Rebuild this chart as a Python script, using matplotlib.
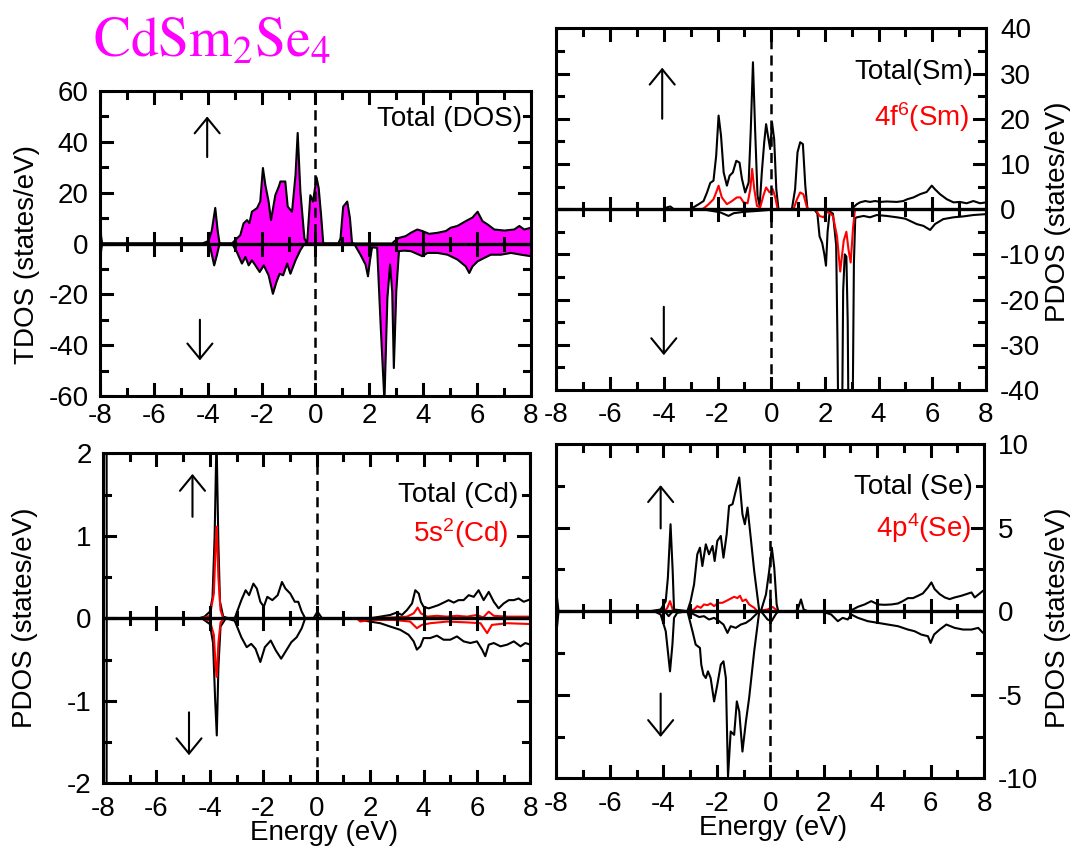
import numpy as np
import matplotlib.pyplot as plt
from matplotlib.ticker import MultipleLocator

plt.rcParams['font.family'] = ['Liberation Sans', 'DejaVu Sans']
plt.rcParams['axes.unicode_minus'] = False
plt.rcParams['mathtext.fontset'] = 'custom'
plt.rcParams['mathtext.rm'] = 'Liberation Sans'
plt.rcParams['mathtext.it'] = 'Liberation Sans:italic'
plt.rcParams['mathtext.bf'] = 'Liberation Sans:bold'

# ---- total DOS (spin up / spin down) ----
e_tdos_up = [-8.0, -7.96, -7.92, -4.2, -3.97, -3.85, -3.72, -3.63, -3.56, -3.1, -2.98, -2.79,
             -2.67, -2.54, -2.45, -2.36, -2.17, -2.05, -1.95, -1.86, -1.74, -1.65, -1.49, -1.36,
             -1.30, -1.12, -1.03, -0.87, -0.74, -0.66, -0.56, -0.41, -0.31, -0.19, -0.09, 0.04,
             0.12, 0.21, 0.29, 0.85, 0.93, 1.03, 1.18, 1.28, 1.36, 2.85, 2.91, 3.1, 3.35, 3.54,
             3.78, 3.97, 4.22, 4.53, 4.84, 5.02, 5.27, 5.58, 5.83, 6.02, 6.2, 6.39, 6.64, 7.01,
             7.38, 7.57, 7.75, 8.0]
tdos_up = [15, 3, 0, 0, 1, 5, 14, 5, 0, 0, 1.3, 3.3,
           7.9, 9.2, 8.0, 12.5, 13.9, 16.5, 29.7, 23, 16.5, 9.2, 19, 22.4,
           24.4, 24.4, 14.5, 12.5, 27, 43.5, 20.5, 2, 0, 19, 16.5, 26,
           21.8, 11, 0, 0, 2, 14.5, 16.5, 10, 0, 0, 0.7, 2.2, 2.9, 4.2,
           5.5, 4.9, 3.8, 4.2, 4.9, 6.2, 6.9, 8.8, 10.2, 12.5, 8.8, 7.5, 5.5, 5.1,
           5.5, 6.9, 5.5, 6.2]
e_tdos_dn = [-8.0, -7.96, -7.92, -4.03, -3.91, -3.76, -3.66, -3.56, -3.10, -2.92, -2.73, -2.6,
             -2.48, -2.36, -2.23, -2.07, -1.92, -1.74, -1.58, -1.45, -1.33, -1.2, -1.05, -0.93,
             -0.74, -0.56, -0.43, -0.37, 1.43, 1.67, 1.86, 1.95, 2.02, 2.1, 2.29, 2.42, 2.56,
             2.67, 2.77, 2.85, 2.91, 3.0, 3.1, 3.29, 3.54, 3.78, 3.97, 4.16, 4.53, 4.9, 5.27,
             5.58, 5.71, 5.83, 6.02, 6.26, 6.51, 6.88, 7.26, 7.63, 8.0]
tdos_dn = [-15, -3, 0, 0, -1.3, -8.6, -4.6, 0, 0, -3.3, -7.9, -5.3,
           -8.6, -6.6, -8.6, -11.2, -8.6, -12.5, -19.8, -15.2, -11.9, -12.5, -7.9, -11.9,
           -6.6, -2.6, -0.4, 0, 0, -4.4, -8.3, -12.9, -7, -1.5, -1.7, -32, -62,
           -21.5, -8.3, -18.9, -49, -18.9, -3, -2.8, -3, -4.1, -5, -3.7, -3.7, -4.4, -6.3,
           -9, -11.6, -9, -7, -5.7, -4.4, -4.4, -3.7, -4.4, -5]

# ---- Sm ----
e_sm_up = [-8, -3.95, -3.88, -3.76, -3.63, -3.01, -2.7, -2.52, -2.39, -2.27, -2.15, -2.05, -1.96,
           -1.87, -1.77, -1.65, -1.55, -1.43, -1.30, -1.18, -1.09, -0.97, -0.84, -0.76, -0.68,
           -0.60, -0.51, -0.43, -0.35, -0.26, -0.19, -0.10, -0.04, 0.03, 0.11, 0.19, 0.27, 0.77,
           0.89, 0.98, 1.08, 1.18, 1.27, 1.35, 3.0, 3.06, 3.19, 3.31, 3.50, 3.68, 3.87, 4.06,
           4.30, 4.68, 4.92, 5.07, 5.30, 5.54, 5.79, 5.98, 6.10, 6.29, 6.54, 6.79, 7.03, 7.28,
           7.53, 7.78, 8.0]
sm_up = [0, 0, 0.4, 0.6, 0, 0, 1.1, 1.8, 3.7, 5.8, 6.3, 11.8, 20.7,
         16.3, 8.1, 5.2, 7.4, 8.1, 10.7, 10.3, 6.7, 3.7, 5.9, 17.7, 32.5,
         17.7, 3, 0.7, 8.1, 14.8, 18.8, 15.5, 13.3, 19.2, 15.5, 4.4, 0, 0,
         4.4, 12.6, 14.8, 14.4, 5.2, 0, 0, 0.4, 1.1, 1.5, 1.8, 1.6, 1.8, 1.6,
         1.7, 1.6, 1.8, 2.2, 2.6, 3.3, 3.8, 5.2, 4.4, 3.3, 2.2, 1.5, 1.6, 1.3,
         1.8, 1.3, 1.5]
e_sm_dn = [-8, -2.5, -2.39, -1.90, -1.59, -1.40, -1.03, -0.53, -0.04, 0.34, 1.6, 1.72, 1.80,
           1.90, 1.98, 2.04, 2.10, 2.18, 2.30, 2.42, 2.47, 2.50, 2.64, 2.68, 2.74, 2.80, 2.85,
           2.88, 3.03, 3.08, 3.13, 3.19, 3.44, 3.68, 3.93, 4.30, 4.68, 4.99, 5.17, 5.42, 5.67,
           5.92, 6.10, 6.41, 6.79, 7.16, 7.53, 8.0]
sm_dn = [0, 0, -0.2, -0.7, -1.5, -0.9, -0.6, -0.4, -0.15, 0, 0, -1, -6,
         -7.5, -10, -12.5, -5, -0.5, -1, -8, -30, -48, -48, -18, -10, -10.5, -25,
         -48, -48, -12, -2, -1.8, -1.5, -1.8, -1.3, -1.5, -1.8, -2.1, -2.6, -3.3, -3.7,
         -4.6, -3.3, -2.2, -1.8, -1.6, -1.3, -1.1]
e_sm4f_up = [-8, -2.6, -2.52, -2.33, -2.15, -2.05, -1.96, -1.84, -1.65, -1.46, -1.28, -1.15,
             -1.03, -0.88, -0.78, -0.71, -0.63, -0.53, -0.41, -0.29, -0.19, -0.06, 0.06, 0.15,
             0.24, 0.83, 0.96, 1.08, 1.20, 1.33, 1.39, 8]
sm4f_up = [0, 0, 0.15, 1.1, 2.2, 3.7, 5.2, 2.6, 1.1, 1.8, 2.6, 2.6,
           1.5, 1.3, 4.4, 8.9, 4.4, 0.7, 0.4, 3, 4.8, 3.7, 4.4, 2.6,
           0, 0, 2.2, 3.7, 3.3, 0.4, 0, 0]
e_sm4f_dn = [-8, 1.65, 1.8, 1.95, 2.1, 2.3, 2.45, 2.57, 2.7, 2.8, 2.88, 2.96, 3.05, 3.12, 8]
sm4f_dn = [0, 0, -1.5, -1.8, -0.5, -1.5, -6, -13.8, -7, -5, -9, -11.8, -4, 0, 0]

# ---- Cd ----
e_cd_up = [-8, -7.87, -7.86, -4.4, -4.2, -4.0, -3.9, -3.82, -3.75, -3.68, -3.62, -3.5, -3.3,
           -3.07, -2.82, -2.66, -2.53, -2.37, -2.24, -2.11, -1.98, -1.85, -1.66, -1.46, -1.30,
           -1.17, -0.99, -0.82, -0.69, -0.56, -0.43, -0.12, 0.03, 0.2, 0.3, 2.0, 2.38, 2.75,
           3.0, 3.19, 3.38, 3.57, 3.69, 3.82, 3.90, 4.0, 4.19, 4.38, 4.56, 4.75, 4.94, 5.13,
           5.31, 5.50, 5.69, 5.88, 6.06, 6.25, 6.44, 6.63, 6.81, 7.0, 7.19, 7.38, 7.56, 7.75, 8.0]
cd_up = [5, 5, 0, 0, 0.02, 0.08, 0.25, 1.0, 2.2, 0.9, 0.2, 0.02, 0,
         0, 0.22, 0.34, 0.28, 0.42, 0.36, 0.2, 0.14, 0.26, 0.22, 0.28, 0.44,
         0.36, 0.3, 0.2, 0.2, 0.08, 0, 0, 0.08, 0, 0, 0, 0.02, 0.04,
         0.07, 0.04, 0.1, 0.18, 0.34, 0.3, 0.2, 0.14, 0.12, 0.14, 0.16, 0.19, 0.22, 0.19,
         0.22, 0.22, 0.28, 0.26, 0.34, 0.22, 0.32, 0.2, 0.12, 0.18, 0.22, 0.22, 0.24, 0.2, 0.23]
e_cd_dn = [-8, -7.87, -7.86, -4.3, -4.0, -3.88, -3.8, -3.74, -3.68, -3.6, -3.4, -3.07, -2.82,
           -2.62, -2.45, -2.29, -2.11, -1.94, -1.72, -1.53, -1.33, -1.14, -0.95, -0.75, -0.56,
           -0.43, 1.5, 1.63, 2.0, 2.38, 2.75, 3.13, 3.44, 3.63, 3.75, 3.88, 4.0, 4.25, 4.5,
           4.75, 5.0, 5.25, 5.5, 5.75, 6.0, 6.19, 6.31, 6.44, 6.63, 6.88, 7.13, 7.38, 7.63,
           7.81, 8.0]
cd_dn = [-5, -5, 0, 0, -0.07, -0.3, -1.0, -1.42, -0.6, -0.1, 0, -0.03, -0.23,
         -0.35, -0.31, -0.37, -0.53, -0.35, -0.27, -0.39, -0.49, -0.39, -0.29, -0.23, -0.12,
         0, 0, -0.02, -0.04, -0.06, -0.1, -0.14, -0.2, -0.28, -0.38, -0.34, -0.24, -0.24, -0.21,
         -0.26, -0.26, -0.22, -0.28, -0.3, -0.28, -0.38, -0.46, -0.32, -0.3, -0.34, -0.32, -0.28, -0.34,
         -0.3, -0.32]
e_cd5s_up = [-8, -4.3, -4.0, -3.85, -3.78, -3.74, -3.68, -3.6, -3.5, 2.0, 2.88, 3.38, 3.63, 3.78,
             3.9, 4.13, 4.5, 4.88, 5.25, 5.63, 6.0, 6.23, 6.44, 6.63, 7.13, 7.63, 8.0]
cd5s_up = [0, 0, 0.03, 0.3, 0.9, 1.11, 0.5, 0.1, 0, 0, 0.01, 0.02, 0.06, 0.13,
           0.06, 0.02, 0.03, 0.02, 0.03, 0.02, 0.04, 0.01, 0.08, 0.03, 0.02, 0.02, 0.02]
e_cd5s_dn = [-8, -4.3, -4.0, -3.85, -3.78, -3.74, -3.68, -3.6, -3.45, 1.5, 1.63, 2.0, 2.88, 3.5,
             3.75, 3.94, 4.25, 4.88, 5.63, 6.13, 6.38, 6.56, 7.13, 8.0]
cd5s_dn = [0, 0, -0.03, -0.2, -0.6, -0.71, -0.3, -0.05, 0, 0, -0.04, -0.02, -0.02, -0.04,
           -0.12, -0.08, -0.06, -0.04, -0.05, -0.06, -0.18, -0.08, -0.06, -0.07]

# ---- Se ----
e_se_up = [-8, -7.92, -4.48, -4.1, -3.91, -3.83, -3.73, -3.65, -3.6, -3.1, -2.98, -2.85, -2.73,
           -2.63, -2.54, -2.41, -2.29, -2.16, -2.08, -1.98, -1.85, -1.75, -1.63, -1.54, -1.41,
           -1.29, -1.16, -1.04, -0.95, -0.85, -0.73, -0.6, -0.41, -0.35, -0.16, -0.04, 0.06,
           0.15, 0.24, 0.3, 0.96, 1.05, 1.15, 1.25, 1.4, 2.9, 3.09, 3.28, 3.53, 3.78, 4.03,
           4.28, 4.53, 4.78, 4.96, 5.15, 5.34, 5.53, 5.71, 5.9, 6.03, 6.15, 6.34, 6.53, 6.71,
           6.9, 7.15, 7.34, 7.53, 7.65, 7.84, 7.96, 8.0]
se_up = [1.1, 0, 0, 0.1, 0.6, 2, 5.2, 2.4, 0.1, 0, 0.6, 1.6, 3.4,
         3.8, 2.7, 4.0, 3.4, 3.9, 3.0, 4.2, 4.5, 3.2, 4.6, 6.3, 6.4,
         7.2, 8.0, 5.8, 5.2, 6.2, 4.4, 2.4, 0, 0, 1.0, 2.4, 3.8,
         2.6, 0.4, 0, 0, 0.2, 0.7, 0.1, 0, 0, 0.1, 0.26, 0.4, 0.6, 0.4,
         0.38, 0.4, 0.46, 0.6, 0.78, 0.78, 0.92, 1.06, 1.42, 1.72, 1.32, 1.02, 0.82, 0.72,
         0.82, 0.92, 1.02, 1.12, 0.82, 1.06, 1.22, 1.2]
e_se_dn = [-8, -7.92, -4.35, -4.1, -3.91, -3.83, -3.75, -3.66, -3.6, -3.48, -3.1, -2.91, -2.79,
           -2.63, -2.58, -2.5, -2.41, -2.33, -2.23, -2.1, -1.98, -1.85, -1.75, -1.66, -1.58,
           -1.48, -1.35, -1.25, -1.16, -1.04, -0.91, -0.79, -0.6, -0.41, -0.35, -0.1, 0.05,
           0.2, 0.3, 1.9, 2.28, 2.53, 2.71, 2.9, 3.03, 3.28, 3.65, 4.03, 4.4, 4.78, 5.15,
           5.4, 5.65, 5.9, 6.0, 6.13, 6.34, 6.59, 6.9, 7.21, 7.53, 7.78, 7.96, 8.0]
se_dn = [-1.3, 0, 0, -0.2, -1.2, -2.4, -3.6, -2.0, -0.4, -0.1, 0, -1.2, -2.0,
         -2.2, -3.2, -3.8, -4.0, -3.6, -4.0, -5.4, -4.4, -3.2, -3.0, -4.0, -9.9,
         -7.2, -7.4, -5.4, -6.0, -8.4, -6.6, -5.2, -2.4, 0, 0, -0.5, -0.6,
         -0.2, 0, 0, -0.2, -0.6, -0.4, -0.5, -0.2, -0.4, -0.6, -0.7, -0.8, -0.9, -1.1,
         -1.2, -1.4, -1.5, -1.9, -1.4, -1.1, -0.8, -1.0, -1.1, -1.1, -1.0, -1.3, -1.3]
e_se4p_up = [-8, -3.95, -3.85, -3.75, -3.65, -3.55, -3.1, -2.85, -2.73, -2.6, -2.48, -2.35, -2.23,
             -2.1, -1.95, -1.79, -1.66, -1.54, -1.35, -1.23, -1.13, -1.04, -0.91, -0.79, -0.6,
             -0.48, -0.1, 0.09, 0.21, 0.28, 8]
se4p_up = [0, 0, 0.2, 0.6, 0.1, 0, 0, 0.1, 0.3, 0.2, 0.4, 0.36, 0.46,
           0.3, 0.5, 0.5, 0.6, 0.7, 0.86, 0.78, 0.92, 0.6, 0.7, 0.4, 0.2,
           0, 0.1, 0.25, 0.1, 0, 0]
e_se4p_dn = [-8, -4.0, -3.9, -3.8, -3.7, -3.6, -3.1, -2.85, -2.66, -2.48, -2.29, -2.1, -1.91,
             -1.75, -1.6, -1.48, -1.29, -1.1, -0.91, -0.73, -0.54, -0.41, 8]
se4p_dn = [0, 0, -0.1, -0.3, -0.1, 0, 0, -0.2, -0.35, -0.3, -0.5, -0.4, -0.6,
           -0.8, -1.3, -0.9, -1.0, -0.8, -0.7, -0.5, -0.2, 0, 0]

MAG = '#FF00FF'
W, H = 1075, 848


def fx(x):
    return x / W


def fy(y):
    return 1 - y / H


def setup(ax, ylim, ymaj, ymin, right=False, xpad=9):
    ax.set_xlim(-8, 8)
    ax.set_ylim(-ylim, ylim)
    ax.xaxis.set_major_locator(MultipleLocator(2))
    ax.xaxis.set_minor_locator(MultipleLocator(1))
    ax.yaxis.set_major_locator(MultipleLocator(ymaj))
    ax.yaxis.set_minor_locator(MultipleLocator(ymin))
    ax.tick_params(axis='both', which='both', length=0, labelsize=20)
    ax.tick_params(axis='x', which='major', pad=xpad)
    if right:
        ax.tick_params(axis='y', which='major', labelleft=False,
                       labelright=True, pad=10)
    else:
        ax.tick_params(axis='y', which='major', pad=8)
    for s in ax.spines.values():
        s.set_linewidth(2.2)

    # tick marks drawn with axvline / axhline spans (axes-fraction lengths)
    box = ax.get_position()
    wpx, hpx = box.width * W, box.height * H
    xmaj = np.arange(-8, 8.001, 2)
    xmin = np.arange(-7, 7.001, 2)
    ymaj_l = np.arange(-ylim, ylim + 1e-9, ymaj)
    ymin_l = np.arange(-ylim + ymin, ylim, ymaj)
    for locs, L, Lz in ((xmaj, 12, 11), (xmin, 7, 6)):
        f, fz = L / hpx, Lz / hpx
        for v in locs:
            ax.axvline(v, ymin=0, ymax=f, color='k', lw=2.2, zorder=4)
            ax.axvline(v, ymin=1 - f, ymax=1, color='k', lw=2.2, zorder=4)
            ax.axvline(v, ymin=0.5 - fz, ymax=0.5 + fz, color='k', lw=2.2, zorder=4)
    for locs, L in ((ymaj_l, 12), (ymin_l, 7)):
        f = L / wpx
        for v in locs:
            ax.axhline(v, xmin=0, xmax=f, color='k', lw=2.2, zorder=4)
            ax.axhline(v, xmin=1 - f, xmax=1, color='k', lw=2.2, zorder=4)

    ax.axvline(0, color='k', lw=1.8, ls=(0, (4, 2.5)), zorder=3)
    ax.axhline(0, color='k', lw=2.4, zorder=4)
    ax.set_xlim(-8, 8)
    ax.set_ylim(-ylim, ylim)


def arrows(ax, xu, yu0, yu1, xd, yd0, yd1):
    ap = dict(arrowstyle='->,head_length=1.1,head_width=0.9', lw=1.5,
              color='k', mutation_scale=10, shrinkA=0, shrinkB=0)
    ax.annotate('', xy=(xu, yu1), xytext=(xu, yu0), arrowprops=ap)
    ax.annotate('', xy=(xd, yd1), xytext=(xd, yd0), arrowprops=ap)


fig = plt.figure(figsize=(10.75, 8.48), dpi=100)
ax1 = fig.add_axes([0.0930, 0.5330, 0.4009, 0.3597])
ax2 = fig.add_axes([0.5176, 0.5401, 0.3996, 0.4265])
ax3 = fig.add_axes([0.0958, 0.0763, 0.3976, 0.3892])
ax4 = fig.add_axes([0.5176, 0.0822, 0.3978, 0.3942])

# total DOS
setup(ax1, 60, 20, 10, xpad=5)
ax1.fill_between(e_tdos_up, 0, tdos_up, color=MAG, lw=0)
ax1.fill_between(e_tdos_dn, 0, tdos_dn, color=MAG, lw=0)
ax1.plot(e_tdos_up, tdos_up, color='k', lw=1.5)
ax1.plot(e_tdos_dn, tdos_dn, color='k', lw=1.5)
arrows(ax1, -4.02, 34, 50, -4.29, -30, -46)

# Sm
setup(ax2, 40, 10, 5, right=True)
ax2.plot(e_sm_up, sm_up, color='k', lw=1.5)
ax2.plot(e_sm_dn, sm_dn, color='k', lw=1.5)
ax2.plot(e_sm4f_up, sm4f_up, color='red', lw=1.5)
ax2.plot(e_sm4f_dn, sm4f_dn, color='red', lw=1.5)
arrows(ax2, -4.06, 20, 31.3, -4.0, -21.6, -32.3)

# Cd
setup(ax3, 2, 1, 0.5)
ax3.plot(e_cd_up, cd_up, color='k', lw=1.5)
ax3.plot(e_cd_dn, cd_dn, color='k', lw=1.5)
ax3.plot(e_cd5s_up, cd5s_up, color='red', lw=1.5)
ax3.plot(e_cd5s_dn, cd5s_dn, color='red', lw=1.5)
arrows(ax3, -4.65, 1.23, 1.75, -4.78, -1.14, -1.66)

# Se
setup(ax4, 10, 5, 2.5, right=True)
ax4.plot(e_se4p_up, se4p_up, color='red', lw=1.5)
ax4.plot(e_se4p_dn, se4p_dn, color='k', lw=1.5)
ax4.plot(e_se_up, se_up, color='k', lw=1.5)
ax4.plot(e_se_dn, se_dn, color='k', lw=1.5)
arrows(ax4, -4.1, 4.95, 7.54, -4.1, -4.93, -7.53)

# texts
fig.text(fx(93), fy(57), r'$\mathrm{CdSm_2Se_4}$', fontsize=40, color=MAG,
         math_fontfamily='stix', ha='left', va='baseline')
fs = 20
fig.text(fx(522), fy(119), 'Total (DOS)', fontsize=fs, ha='right', va='center')
fig.text(fx(973), fy(72), 'Total(Sm)', fontsize=fs, ha='right', va='center')
fig.text(fx(969), fy(117), r'4f$^6$(Sm)', fontsize=fs, ha='right', va='center', color='red')
fig.text(fx(518), fy(495), 'Total (Cd)', fontsize=fs, ha='right', va='center')
fig.text(fx(508), fy(533), r'5s$^2$(Cd)', fontsize=fs, ha='right', va='center', color='red')
fig.text(fx(973), fy(487), 'Total (Se)', fontsize=fs, ha='right', va='center')
fig.text(fx(971), fy(528), r'4p$^4$(Se)', fontsize=fs, ha='right', va='center', color='red')

fig.text(fx(27), fy(255), 'TDOS (states/eV)', fontsize=fs, rotation=90, ha='center', va='center')
fig.text(fx(25), fy(618), 'PDOS (states/eV)', fontsize=fs, rotation=90, ha='center', va='center')
fig.text(fx(1058), fy(212), 'PDOS (states/eV)', fontsize=fs, rotation=90, ha='center', va='center')
fig.text(fx(1058), fy(618), 'PDOS (states/eV)', fontsize=fs, rotation=90, ha='center', va='center')
fig.text(fx(324), fy(833), 'Energy (eV)', fontsize=fs, ha='center', va='center')
fig.text(fx(773), fy(828), 'Energy (eV)', fontsize=fs, ha='center', va='center')

fig.savefig('out.png', dpi=100)
